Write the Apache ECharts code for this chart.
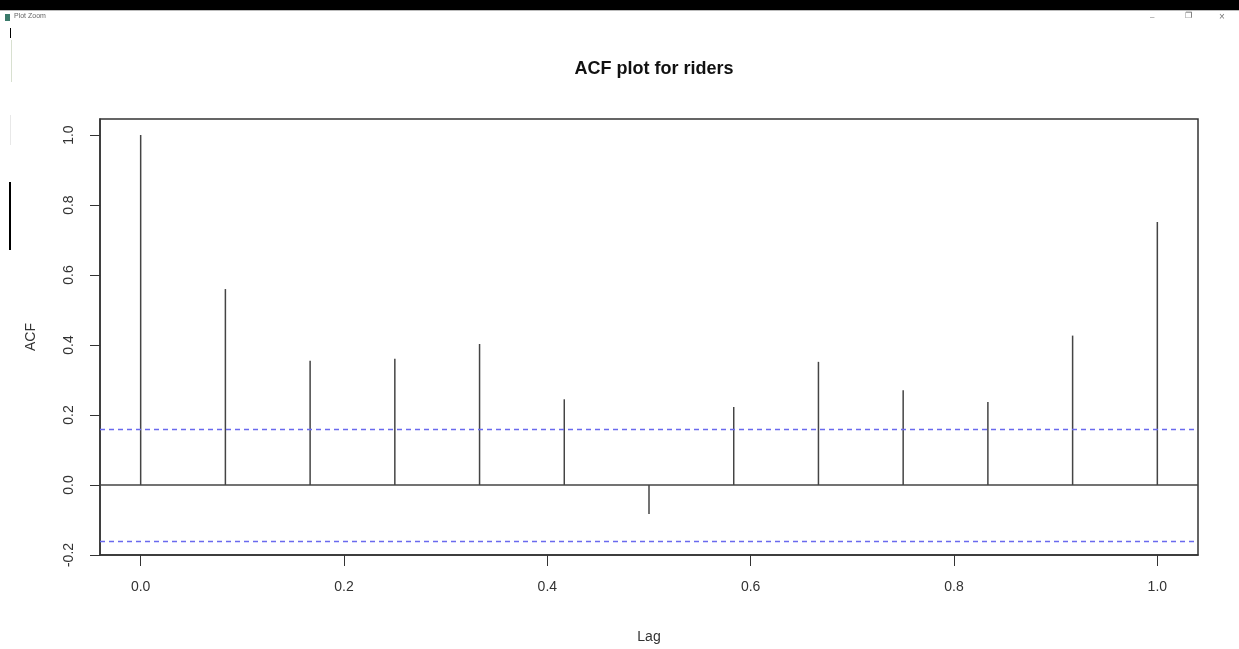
<!DOCTYPE html>
<html>
<head>
<meta charset="utf-8">
<title>ACF plot for riders</title>
<script src="https://cdn.jsdelivr.net/npm/echarts@6/dist/echarts.min.js"></script>
<style>
  html, body { margin: 0; padding: 0; background: #fff; }
  #chart { width: 1239px; height: 649px; }
</style>
</head>
<body>
<div id="chart"></div>
<script>
// lags in years (monthly series, 12 lags)
const lags = [0, 1 / 12, 2 / 12, 3 / 12, 4 / 12, 5 / 12, 6 / 12, 7 / 12, 8 / 12, 9 / 12, 10 / 12, 11 / 12, 1]
const acfValues = [1.0, 0.56, 0.355, 0.361, 0.403, 0.245, -0.083, 0.223, 0.352, 0.271, 0.237, 0.427, 0.752]
// blue dashed significance bounds
const ciBound = 0.157
const xTicks = [0, 0.2, 0.4, 0.6, 0.8, 1.0]
const yTicks = [-0.2, 0, 0.2, 0.4, 0.6, 0.8, 1.0]

const chart = echarts.init(document.getElementById('chart'))

const labelFont = { fontFamily: 'Liberation Sans', fontSize: 14, color: '#333' }

chart.setOption({
  animation: false,
  title: {
    text: 'ACF plot for riders',
    left: 649,
    top: 55,
    textAlign: 'center',
    textStyle: { fontFamily: 'Liberation Sans', fontSize: 18, fontWeight: 'bold', color: '#111' }
  },
  grid: {
    left: 100,
    right: 41,
    top: 119,
    bottom: 88,
    show: true,
    borderColor: '#333',
    borderWidth: 1.5
  },
  xAxis: {
    type: 'value',
    min: -0.04,
    max: 1.04,
    name: 'Lag',
    nameLocation: 'middle',
    nameGap: 75,
    nameTextStyle: labelFont,
    axisLine: { show: true, onZero: false, lineStyle: { color: '#333', width: 1.5 } },
    axisTick: { show: true, length: 11, customValues: xTicks, lineStyle: { color: '#333' } },
    axisLabel: Object.assign({ margin: 25, customValues: xTicks, formatter: v => v.toFixed(1) }, labelFont),
    splitLine: { show: false }
  },
  yAxis: {
    type: 'value',
    min: -0.2,
    max: 1.046,
    name: 'ACF',
    nameLocation: 'middle',
    nameRotate: 90,
    nameGap: 62,
    nameTextStyle: labelFont,
    axisLine: { show: true, onZero: false, lineStyle: { color: '#333', width: 1.5 } },
    axisTick: { show: true, length: 10, customValues: yTicks, lineStyle: { color: '#333' } },
    axisLabel: Object.assign({ margin: 24, rotate: 90, customValues: yTicks, formatter: v => v.toFixed(1) }, labelFont),
    splitLine: { show: false }
  },
  series: [
    {
      type: 'custom',
      data: lags.map((l, i) => [l, acfValues[i]]),
      renderItem: (params, api) => {
        const top = api.coord([api.value(0), api.value(1)])
        const base = api.coord([api.value(0), 0])
        return {
          type: 'line',
          shape: { x1: base[0], y1: base[1], x2: top[0], y2: top[1] },
          style: { stroke: '#444', lineWidth: 1.5 }
        }
      },
      markLine: {
        symbol: 'none',
        silent: true,
        label: { show: false },
        data: [
          { yAxis: 0, lineStyle: { color: '#444', type: 'solid', width: 1.5 } },
          { yAxis: ciBound, lineStyle: { color: '#6a6aee', type: [5, 4], width: 1.3 } },
          { yAxis: -ciBound, lineStyle: { color: '#6a6aee', type: [5, 4], width: 1.3 } }
        ]
      }
    }
  ],
  graphic: [
    // window chrome from the screenshot
    { type: 'rect', shape: { x: 0, y: 0, width: 1239, height: 10 }, style: { fill: '#000' } },
    { type: 'rect', shape: { x: 0, y: 10, width: 1239, height: 1 }, style: { fill: '#bbb' } },
    { type: 'rect', shape: { x: 5, y: 14, width: 5, height: 7 }, style: { fill: '#3a7a6a' } },
    { type: 'text', x: 14, y: 13, style: { text: 'Plot Zoom', fontFamily: 'Liberation Sans', fontSize: 7, fill: '#666' } },
    { type: 'text', x: 1150, y: 13, style: { text: '–', fontFamily: 'Liberation Sans', fontSize: 8, fill: '#777' } },
    { type: 'text', x: 1185, y: 12, style: { text: '❐', fontFamily: 'DejaVu Sans', fontSize: 8, fill: '#555' } },
    { type: 'text', x: 1219, y: 12, style: { text: '×', fontFamily: 'Liberation Sans', fontSize: 10, fill: '#777' } },
    { type: 'rect', shape: { x: 10, y: 28, width: 1, height: 10 }, style: { fill: '#000' } },
    { type: 'rect', shape: { x: 11, y: 40, width: 1, height: 42 }, style: { fill: '#d8e0d0' } },
    { type: 'rect', shape: { x: 10, y: 115, width: 1, height: 30 }, style: { fill: '#e8e8e8' } },
    { type: 'rect', shape: { x: 9, y: 182, width: 2, height: 68 }, style: { fill: '#000' } }
  ]
})
</script>
</body>
</html>
